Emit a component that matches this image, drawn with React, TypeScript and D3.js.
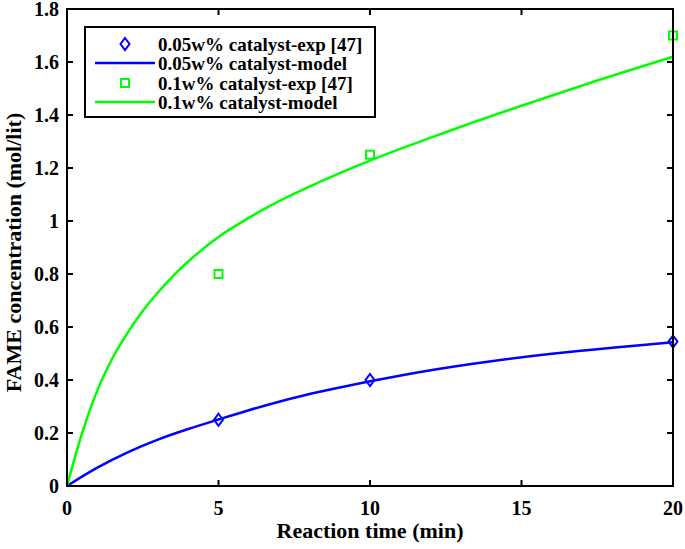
import React from "react";
import * as d3 from "d3";

const W = 685;
const H = 549;

const xTicks = [0, 5, 10, 15, 20];
const yTicks = [0, 0.2, 0.4, 0.6, 0.8, 1, 1.2, 1.4, 1.6, 1.8];

const expTime = [5, 10, 20];
const exp005 = [0.25, 0.4, 0.545];
const exp01 = [0.8, 1.25, 1.7];

const model005Time = [0, 1, 2, 3, 4, 5, 6, 7, 8, 9, 10, 12, 14, 16, 18, 20];
const model005 = [0, 0.069, 0.127, 0.175, 0.215, 0.251, 0.286, 0.318, 0.347, 0.372, 0.395, 0.437, 0.471, 0.499, 0.522, 0.542];

const model01Time = [0, 0.5, 1, 1.5, 2, 2.5, 3, 3.5, 4, 5, 6, 7, 8, 10, 12.5, 15, 17.5, 20];
const model01 = [0, 0.2, 0.36, 0.482, 0.578, 0.66, 0.73, 0.792, 0.847, 0.94, 1.012, 1.075, 1.13, 1.228, 1.335, 1.435, 1.53, 1.62];

const legendLabels = [
  "0.05w% catalyst-exp [47]",
  "0.05w% catalyst-model",
  "0.1w% catalyst-exp [47]",
  "0.1w% catalyst-model",
];

const BLUE = "#0000ff";
const GREEN = "#00ff00";
const FONT = "'Liberation Serif', 'Times New Roman', serif";

export default function App() {
  const left = 67, right = 673, top = 9, bottom = 486;
  const x = d3.scaleLinear().domain([0, 20]).range([left, right]);
  const y = d3.scaleLinear().domain([0, 1.8]).range([bottom, top]);
  const line = d3
    .line<[number, number]>()
    .x((d) => x(d[0]))
    .y((d) => y(d[1]))
    .curve(d3.curveMonotoneX);

  const blueModel = line(model005Time.map((t, i) => [t, model005[i]] as [number, number]));
  const greenModel = line(model01Time.map((t, i) => [t, model01[i]] as [number, number]));

  const diamond = (cx: number, cy: number) =>
    `M${cx},${cy - 6}L${cx + 4.5},${cy}L${cx},${cy + 6}L${cx - 4.5},${cy}Z`;

  const tickLen = 6;
  const legRows = [44, 63, 83, 102];
  const sq = 8;

  return (
    <svg width={W} height={H} style={{ position: "absolute", left: 0, top: 0, background: "#fff" }}>
      <rect x={0} y={0} width={W} height={H} fill="#fff" />
      <path d={blueModel || ""} fill="none" stroke={BLUE} strokeWidth={2.5} />
      <path d={greenModel || ""} fill="none" stroke={GREEN} strokeWidth={2.5} />
      {expTime.map((t, i) => (
        <path key={"b" + i} d={diamond(x(t), y(exp005[i]))} fill="none" stroke={BLUE} strokeWidth={2} />
      ))}
      {expTime.map((t, i) => (
        <rect key={"g" + i} x={x(t) - sq / 2} y={y(exp01[i]) - sq / 2} width={sq} height={sq} fill="none" stroke={GREEN} strokeWidth={2} />
      ))}
      <rect x={left} y={top} width={right - left} height={bottom - top} fill="none" stroke="#000" strokeWidth={2} />
      {xTicks.map((t) => (
        <g key={"xt" + t}>
          <line x1={x(t)} x2={x(t)} y1={bottom} y2={bottom - tickLen} stroke="#000" strokeWidth={2} />
          <line x1={x(t)} x2={x(t)} y1={top} y2={top + tickLen} stroke="#000" strokeWidth={2} />
          <text x={x(t)} y={515} textAnchor="middle" fontFamily={FONT} fontWeight="bold" fontSize={20} fill="#000">
            {t}
          </text>
        </g>
      ))}
      {yTicks.map((t) => (
        <g key={"yt" + t}>
          <line x1={left} x2={left + tickLen} y1={y(t)} y2={y(t)} stroke="#000" strokeWidth={2} />
          <line x1={right} x2={right - tickLen} y1={y(t)} y2={y(t)} stroke="#000" strokeWidth={2} />
          <text x={59} y={y(t) + 7} textAnchor="end" fontFamily={FONT} fontWeight="bold" fontSize={20} fill="#000">
            {String(t)}
          </text>
        </g>
      ))}
      <text x={370} y={538} textAnchor="middle" fontFamily={FONT} fontWeight="bold" fontSize={22} fill="#000">
        Reaction time (min)
      </text>
      <text
        transform={`translate(21,${(top + bottom) / 2 + 5}) rotate(-90)`}
        textAnchor="middle"
        fontFamily={FONT}
        fontWeight="bold"
        fontSize={22}
        fill="#000"
      >
        FAME concentration (mol/lit)
      </text>
      <rect x={85} y={27} width={290} height={90} fill="#fff" stroke="#000" strokeWidth={2} />
      <path d={diamond(125, legRows[0])} fill="none" stroke={BLUE} strokeWidth={2} />
      <line x1={95} x2={155} y1={legRows[1]} y2={legRows[1]} stroke={BLUE} strokeWidth={2.5} />
      <rect x={125 - sq / 2} y={legRows[2] - sq / 2} width={sq} height={sq} fill="none" stroke={GREEN} strokeWidth={2} />
      <line x1={95} x2={155} y1={legRows[3]} y2={legRows[3]} stroke={GREEN} strokeWidth={2.5} />
      {legendLabels.map((l, i) => (
        <text key={l} x={158} y={legRows[i] + 6.5} fontFamily={FONT} fontWeight="bold" fontSize={19} fill="#000">
          {l}
        </text>
      ))}
    </svg>
  );
}
